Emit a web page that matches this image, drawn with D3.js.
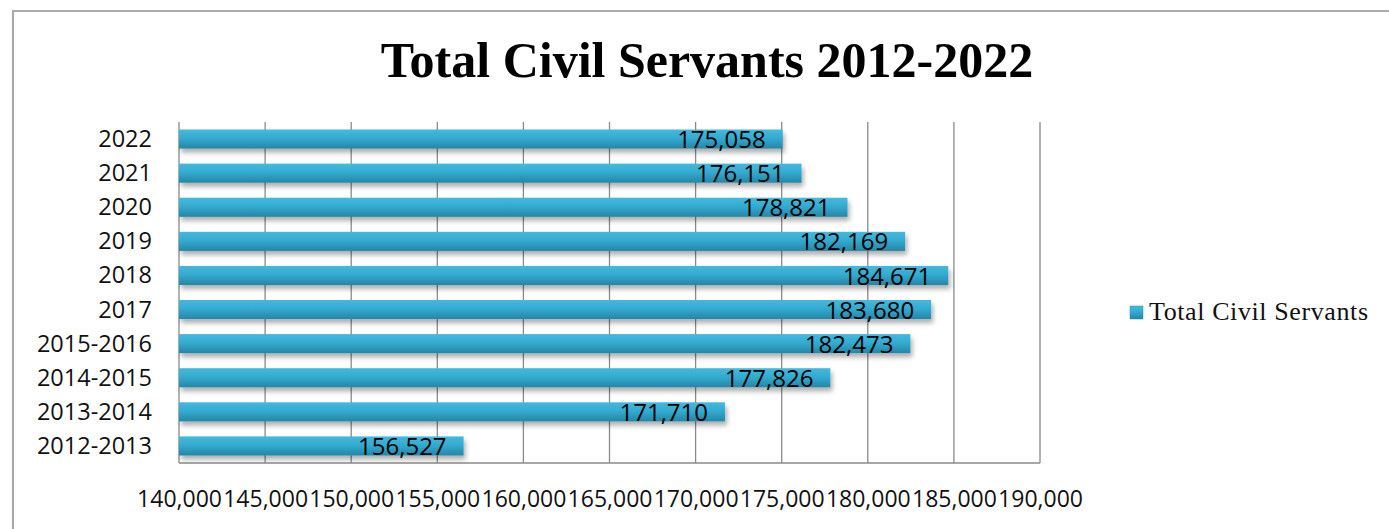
<!DOCTYPE html>
<html>
<head>
<meta charset="utf-8">
<script src="https://cdn.jsdelivr.net/npm/d3@7"></script>
<style>
  html, body { margin: 0; padding: 0; background: #fff; }
  svg { display: block; }
</style>
</head>
<body>
<div id="chart"></div>
<script>
// Civil service headcount by reporting period (top to bottom as drawn)
const categories = ["2022", "2021", "2020", "2019", "2018", "2017",
  "2015-2016", "2014-2015", "2013-2014", "2012-2013"];
const values = [175058, 176151, 178821, 182169, 184671, 183680,
  182473, 177826, 171710, 156527];
const tickValues = [140000, 145000, 150000, 155000, 160000, 165000,
  170000, 175000, 180000, 185000, 190000];
const seriesName = "Total Civil Servants";
const chartTitle = "Total Civil Servants 2012-2022";

const W = 1389, H = 529;
const plot = { left: 179, right: 1040, top: 122, bottom: 463 };
const sans = "'Open Sans', 'Liberation Sans', sans-serif";
const serif = "'Liberation Serif', 'Times New Roman', serif";

const svg = d3.select("#chart").append("svg")
  .attr("width", W).attr("height", H);

const defs = svg.append("defs");
const grad = defs.append("linearGradient")
  .attr("id", "barGrad").attr("x1", 0).attr("y1", 0).attr("x2", 0).attr("y2", 1);
grad.append("stop").attr("offset", "0%").attr("stop-color", "#45b9dc");
grad.append("stop").attr("offset", "45%").attr("stop-color", "#34abd0");
grad.append("stop").attr("offset", "100%").attr("stop-color", "#2586a6");

const shadow = defs.append("filter").attr("id", "barShadow")
  .attr("x", "-5%").attr("y", "-30%").attr("width", "110%").attr("height", "190%");
shadow.append("feGaussianBlur").attr("in", "SourceAlpha").attr("stdDeviation", 2.5);
shadow.append("feOffset").attr("dx", 2).attr("dy", 4).attr("result", "off");
shadow.append("feComponentTransfer").append("feFuncA").attr("type", "linear").attr("slope", 0.32);
const merge = shadow.append("feMerge");
merge.append("feMergeNode");
merge.append("feMergeNode").attr("in", "SourceGraphic");

// Outer frame
svg.append("path")
  .attr("d", `M13,${H + 5} L13,11 L${W + 5},11`)
  .attr("fill", "none").attr("stroke", "#ababab").attr("stroke-width", 2.2);

// Title
svg.append("text")
  .attr("x", 707).attr("y", 77)
  .attr("text-anchor", "middle")
  .attr("font-family", serif)
  .attr("font-weight", "bold")
  .attr("font-size", 50)
  .attr("fill", "#000")
  .text(chartTitle);

const x = d3.scaleLinear()
  .domain([d3.min(tickValues), d3.max(tickValues)])
  .range([plot.left, plot.right]);

const y = d3.scaleBand()
  .domain(categories)
  .range([plot.top, plot.bottom])
  .paddingInner(0.44)
  .paddingOuter(0.22);

// Vertical gridlines
svg.append("g").selectAll("line")
  .data(tickValues)
  .join("line")
  .attr("x1", d => x(d)).attr("x2", d => x(d))
  .attr("y1", plot.top).attr("y2", plot.bottom)
  .attr("stroke", "#8a8a8a").attr("stroke-width", 1.3);

// Horizontal base line
svg.append("line")
  .attr("x1", plot.left).attr("x2", plot.right)
  .attr("y1", plot.bottom).attr("y2", plot.bottom)
  .attr("stroke", "#8a8a8a").attr("stroke-width", 1.3);

// X axis labels
const fmt = d3.format(",");
const xAxis = d3.axisBottom(x).tickValues(tickValues).tickFormat(fmt).tickSize(0).tickPadding(0);
const gx = svg.append("g")
  .attr("transform", `translate(0,${plot.bottom + 36})`)
  .call(xAxis);
gx.select(".domain").remove();
gx.selectAll("text")
  .attr("font-family", sans)
  .attr("font-size", 23)
  .attr("fill", "#111")
  .attr("dy", "0.36em");

// Y axis labels
const yAxis = d3.axisLeft(y).tickSize(0).tickPadding(0);
const gy = svg.append("g")
  .attr("transform", `translate(${plot.left - 27},0)`)
  .call(yAxis);
gy.select(".domain").remove();
gy.selectAll("text")
  .attr("font-family", sans)
  .attr("font-size", 23.5)
  .attr("fill", "#111")
  .attr("dy", "0.34em");

// Bars
svg.append("g").selectAll("rect")
  .data(values)
  .join("rect")
  .attr("x", x(d3.min(tickValues)))
  .attr("y", (d, i) => y(categories[i]))
  .attr("width", d => x(d) - x(d3.min(tickValues)))
  .attr("height", y.bandwidth())
  .attr("fill", "url(#barGrad)")
  .attr("filter", "url(#barShadow)");

// Value labels inside bar ends
svg.append("g").selectAll("text")
  .data(values)
  .join("text")
  .attr("x", d => x(d) - 17)
  .attr("y", (d, i) => y(categories[i]) + y.bandwidth() / 2)
  .attr("dy", "0.38em")
  .attr("text-anchor", "end")
  .attr("font-family", sans)
  .attr("font-size", 24)
  .attr("fill", "#000")
  .text(d => fmt(d));

// Legend
const lg = svg.append("g").attr("transform", "translate(1130,306)");
lg.append("rect").attr("width", 13).attr("height", 13)
  .attr("fill", "url(#barGrad)").attr("stroke", "#2a95b8").attr("stroke-width", 0.5);
lg.append("text")
  .attr("x", 19).attr("y", 13.5)
  .attr("font-family", serif)
  .attr("font-size", 26)
  .attr("letter-spacing", 0.6)
  .attr("fill", "#111")
  .text(seriesName);
</script>
</body>
</html>
